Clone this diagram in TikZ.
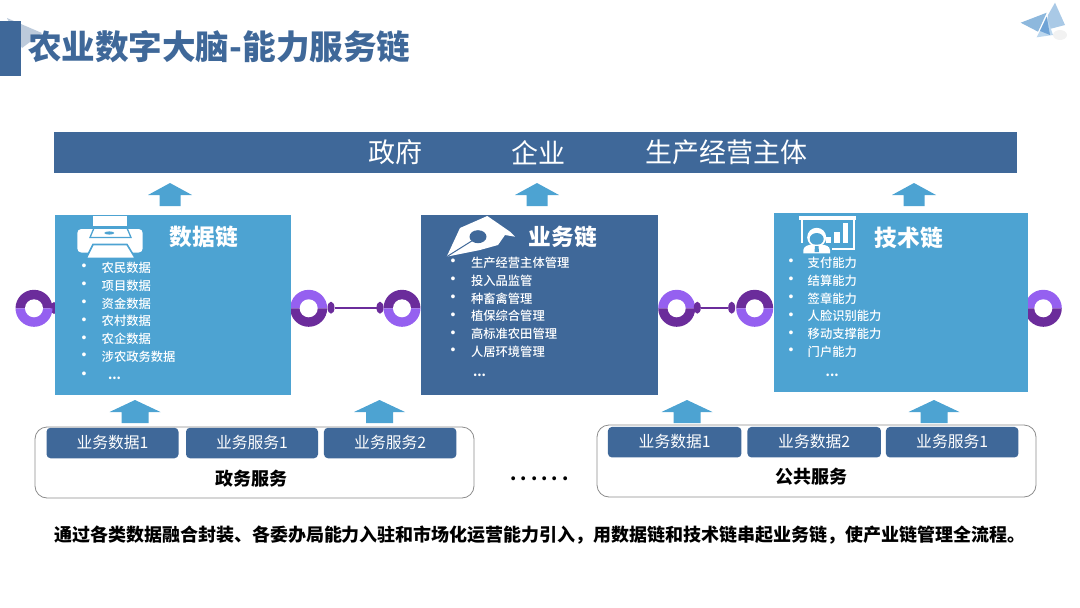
\documentclass[tikz,border=0pt]{standalone}
\usepackage{fontspec}
\setmainfont{Noto Sans CJK SC}
\newfontfamily\bulletfont{Liberation Sans}
\newfontfamily\medfont{Noto Sans CJK SC Medium}
\usetikzlibrary{shapes.geometric}
\definecolor{dkblue}{HTML}{3F6899}
\definecolor{ltblue}{HTML}{4DA3D2}
\definecolor{dkpurple}{HTML}{6B2C9B}
\definecolor{ltpurple}{HTML}{9560F0}
\definecolor{framegray}{HTML}{8C8C8C}
\definecolor{decoa}{HTML}{8DB8DD}
\definecolor{decob}{HTML}{A9C9E6}
\definecolor{decoc}{HTML}{6FA3D6}
\definecolor{decod}{HTML}{BCD7EE}
\newcommand{\fsz}[1]{\fontsize{#1pt}{#1pt}\selectfont}
\newcommand{\upshaft}[2]{% centre x, tip y, bottom arrows
  \fill[ltblue] (#1,#2) -- (#1+25.5,#2+12) -- (#1+13.5,#2+12) -- (#1+13.5,#2+23) -- (#1-13.5,#2+23) -- (#1-13.5,#2+12) -- (#1-25.5,#2+12) -- cycle;}
\newcommand{\uptop}[2]{% centre x, tip y, top arrows
  \fill[ltblue] (#1,#2) -- (#1+22,#2+12) -- (#1+10.5,#2+12) -- (#1+10.5,#2+23) -- (#1-10.5,#2+23) -- (#1-10.5,#2+12) -- (#1-22,#2+12) -- cycle;}
\newcommand{\ringat}[5]{% name, x, y, top colour, bottom colour
  \fill[#4] (#2,#3) ++(-18.5pt,0pt) arc[start angle=180,end angle=0,radius=18.5pt] -- cycle;
  \fill[#5] (#2,#3) ++(-18.5pt,0pt) arc[start angle=180,end angle=360,radius=18.5pt] -- cycle;
  \node[ringhole] (#1) at (#2,#3) {};}
\newcommand{\dt}{\makebox[10.3pt]{.}}
\tikzset{
  x=1pt,y=-1pt,
  every node/.style={inner sep=0pt,outer sep=0pt},
  ringhole/.style={circle,fill=white,minimum size=18pt},
  nub/.style={ellipse,fill=dkpurple,minimum width=7pt,minimum height=12pt},
  link/.style={draw=dkpurple,line width=1.6pt},
  chainbox/.style={rectangle,anchor=north west},
  chaintitle/.style={text=white,font=\fsz{22.7}\bfseries},
  item/.style={text=white,anchor=west,font=\medfont\fsz{12.3}},
  dotitem/.style={text=white,font=\bulletfont\fsz{14}},
  svc/.style={rectangle,rounded corners=4pt,fill=dkblue,text=white,minimum height=30.5pt,text height=12pt,text depth=2pt,font=\fsz{15.8}},
  group/.style={draw=framegray,line width=0.8pt,rounded corners=12pt,fill=white},
  grouplabel/.style={text=black,font=\fsz{18}\bfseries},
  topword/.style={text=white,font=\fsz{27}},
}
\begin{document}
\begin{tikzpicture}
\useasboundingbox (0,0) rectangle (1080,608);
% corner decoration
\fill[dkblue!35] (7,18) -- (42,33) -- (22,48) -- cycle;
\fill[dkblue] (0,21) rectangle (21,76);
\fill[black!5] (1060,35) ellipse[x radius=7pt,y radius=5pt];
\fill[decob] (1055,2.7) -- (1065,25) -- (1046,30) -- (1048,15) -- cycle;
\fill[decoa] (1020.7,22.7) -- (1046.7,12.7) -- (1038,31.7) -- cycle;
\fill[decod] (1036.7,37.3) -- (1046.7,16.7) -- (1053,35) -- cycle;
\fill[decoc] (1046.7,16.7) -- (1050,35) -- (1040,31) -- cycle;
% title
\node[anchor=west,text=dkblue,font=\fsz{33.6}\bfseries] (title) at (28,47) {农业数字大脑-能力服务链};
% top bar
\node[anchor=north west,fill=dkblue,minimum width=963pt,minimum height=41pt] (bar) at (54,132) {};
\node[topword] (w1) at (395,152.5) {政府};
\node[topword] (w2) at (538,152.5) {企业};
\node[topword] (w3) at (726,152.5) {生产经营主体};
% arrows to the bar
\uptop{170}{183}
\uptop{537}{183}
\uptop{914}{183}
% rings, behind the boxes
\fill[dkpurple] (54,308) ellipse[x radius=3.5pt,y radius=6pt];
\ringat{r1}{34}{308.3}{dkpurple}{ltpurple}
\ringat{r2}{308.7}{308.3}{ltpurple}{dkpurple}
\ringat{r3}{402}{308.3}{dkpurple}{ltpurple}
\ringat{r4}{676.7}{308.3}{ltpurple}{dkpurple}
\ringat{r5}{754.7}{308.3}{dkpurple}{ltpurple}
\ringat{r6}{1043.3}{308.3}{ltpurple}{dkpurple}
\node[nub] (n1) at (331,307.7) {};
\node[nub] (n2) at (380,307.7) {};
\node[nub] (n3) at (697.3,307.7) {};
\node[nub] (n4) at (731.7,307.7) {};
\draw[link] (n1) -- (n2);
\draw[link] (n3) -- (n4);
% chain boxes
\node[chainbox,fill=ltblue,minimum width=236pt,minimum height=180pt] (b1) at (55,214.5) {};
\node[chainbox,fill=dkblue,minimum width=237pt,minimum height=180pt] (b2) at (421,215) {};
\node[chainbox,fill=ltblue,minimum width=254pt,minimum height=179pt] (b3) at (774,213) {};
\node[chaintitle] (t1) at (204,237) {数据链};
\node[chaintitle] (t2) at (563,237) {业务链};
\node[chaintitle] (t3) at (909,237.5) {技术链};
% printer icon
\fill[white] (93.3,216) rectangle (126.7,226);
\fill[white,rounded corners=4pt] (77.3,229) -- (142.7,229) -- (142.7,252.5) -- (77.3,252.5) -- cycle;
\draw[ltblue,line width=1.3pt] (90,237.5) -- (94,228) -- (127,228) -- (131,237.5) -- cycle;
\fill[ltblue] (109.3,233) ellipse[x radius=5pt,y radius=1.6pt];
\draw[ltblue,line width=1.6pt,fill=white] (86,258.5) -- (135.5,258.5) -- (127,244.5) -- (93,244.5) -- cycle;
% nib icon
\fill[white] (446.7,256.7) -- (460,228) -- (487.3,216) -- (510,231.7) -- (515,236.7) -- (505,235) -- (498,245) -- (480,250) -- cycle;
\fill[dkblue] (478,236.7) ellipse[x radius=8.5pt,y radius=6.5pt];
\draw[dkblue,line width=1pt] (473.3,240) -- (446.7,256.7);
% presenter icon
\fill[white] (799,216) rectangle (856,220);
\fill[white] (800.7,220) rectangle (803.3,243);
\fill[white] (852.7,220) rectangle (855.3,250);
\fill[white] (831.7,248) rectangle (855.3,250);
\fill[white] (826,237) rectangle (830.7,243);
\fill[white] (834,232) rectangle (840,243);
\fill[white] (842.7,223) rectangle (848.3,243);
\fill[white] (816.7,237.3) circle[radius=9.5pt];
\fill[ltblue] (816.7,239) ellipse[x radius=7pt,y radius=6pt];
\fill[white] (803.3,253.3) -- (803.3,250) .. controls (804,246) and (808,245) .. (812,244.5) -- (821,244.5) .. controls (826,245) and (829.5,246) .. (830,250) -- (830,253.3) -- cycle;
\fill[ltblue] (815,246) -- (818.5,246) -- (819,252) -- (814.5,252) -- cycle;
% lists
\foreach \i/\t/\y in {1/农民数据/267.7,2/项目数据/285.5,3/资金数据/303.3,4/农村数据/321,5/农企数据/338.8,6/涉农政务数据/356.6}{
  \node[dotitem] (da\i) at (84,\y) {•};
  \node[item] (dt\i) at (101.7,\y) {\t};
}
\node[dotitem] (da7) at (84,375) {•};
\node[item,font=\medfont\fsz{12.3}\bfseries] (dt7) at (108,378.5) {...};
\foreach \i/\t/\y in {1/生产经营主体管理/262.7,2/投入品监管/280.5,3/种畜禽管理/298.3,4/植保综合管理/316,5/高标准农田管理/333.8,6/人居环境管理/351.6}{
  \node[dotitem] (ba\i) at (453,\y) {•};
  \node[item] (bt\i) at (471,\y) {\t};
}
\node[item,font=\medfont\fsz{12.3}\bfseries] (bt7) at (473,375.5) {...};
\foreach \i/\t/\y in {1/支付能力/262.7,2/结算能力/280.5,3/签章能力/298.3,4/人脸识别能力/316,5/移动支撑能力/333.8,6/门户能力/351.6}{
  \node[dotitem] (ta\i) at (791,\y) {•};
  \node[item] (tt\i) at (807.7,\y) {\t};
}
\node[item,font=\medfont\fsz{12.3}\bfseries] (tt7) at (825.7,375) {...};
% arrows from the service groups
\upshaft{135}{400}
\upshaft{379.5}{400}
\upshaft{687}{400}
\upshaft{934}{400}
% left group
\node[group,anchor=north west,minimum width=439pt,minimum height=71pt] (g1) at (35,427) {};
\node[svc,minimum width=132pt] (s1) at (112.5,443) {业务数据1};
\node[svc,minimum width=132pt] (s2) at (252,443) {业务服务1};
\node[svc,minimum width=132.5pt] (s3) at (390.2,443) {业务服务2};
\node[grouplabel] (l1) at (251,478.5) {政务服务};
% dots
\node[text=black,font=\fsz{18}\bfseries] (more) at (539.5,479) {\dt\dt\dt\dt\dt\dt};
% right group
\node[group,anchor=north west,minimum width=439pt,minimum height=72pt] (g2) at (597,425) {};
\node[svc,minimum width=133.5pt] (s4) at (674.7,442.2) {业务数据1};
\node[svc,minimum width=133.5pt] (s5) at (814.2,442.2) {业务数据2};
\node[svc,minimum width=132.5pt] (s6) at (952.2,442.2) {业务服务1};
\node[grouplabel] (l2) at (811,476.5) {公共服务};
% bottom sentence
\node[anchor=west,text=black,font=\fsz{18}\bfseries] (note) at (54,535) {通过各类数据融合封装、各委办局能力入驻和市场化运营能力引入，用数据链和技术链串起业务链，使产业链管理全流程。};
\end{tikzpicture}
\end{document}
